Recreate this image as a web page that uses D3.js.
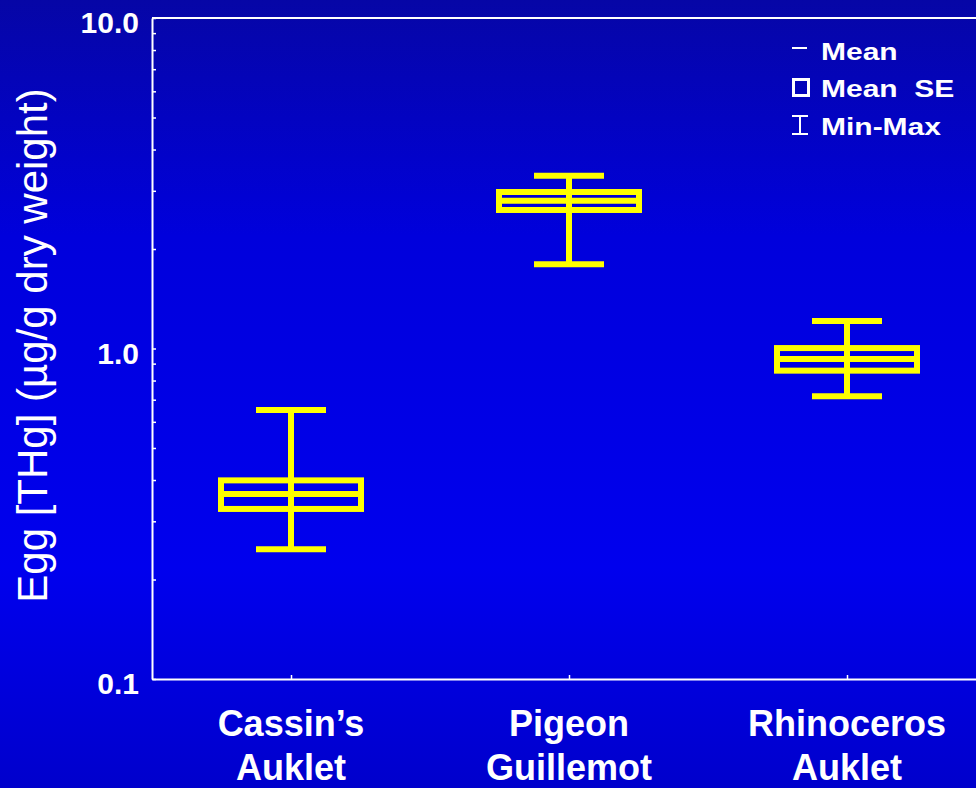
<!DOCTYPE html>
<html>
<head>
<meta charset="utf-8">
<script src="https://cdn.jsdelivr.net/npm/d3@7"></script>
<style>
  html, body { margin: 0; padding: 0; background: #0000d8; overflow: hidden; }
  svg { display: block; }
  text { font-family: "Liberation Sans", Arial, Helvetica, sans-serif; fill: #ffffff; }
</style>
</head>
<body>
<svg id="chart" width="976" height="788"></svg>
<script>
// Egg total mercury by species: mean, standard error and range (log scale)
const species = ["Cassin’s Auklet", "Pigeon Guillemot", "Rhinoceros Auklet"];
const speciesLines = [["Cassin’s", "Auklet"], ["Pigeon", "Guillemot"], ["Rhinoceros", "Auklet"]];
const means = [0.363, 2.80, 0.930];
const stdErrs = [0.036, 0.175, 0.073];
const mins = [0.247, 1.80, 0.717];
const maxs = [0.651, 3.33, 1.211];
const majorTicks = [0.1, 1, 10];
const legendLabels = ["Mean", "Mean  SE", "Min-Max"];

const W = 976, H = 788;
const plot = { left: 152, right: 986, top: 18, bottom: 679 };
const yellow = "#ffff00";

const svg = d3.select("#chart");

// background gradient
const defs = svg.append("defs");
const grad = defs.append("linearGradient")
  .attr("id", "bg").attr("x1", 0).attr("y1", 0).attr("x2", 0).attr("y2", 1);
[[0, "#0606a6"], [0.3, "#0000dc"], [0.72, "#0000ee"], [1, "#0000cc"]]
  .forEach(([o, c]) => grad.append("stop").attr("offset", o).attr("stop-color", c));
svg.append("rect").attr("width", W).attr("height", H).attr("fill", "url(#bg)");

const x = d3.scalePoint().domain(species).range([plot.left, plot.right]).padding(0.5);
const y = d3.scaleLog().domain([0.1, 10]).range([plot.bottom, plot.top]);

// all ticks (major + minor) on the log axis
const allTicks = y.ticks();
const isMajor = v => majorTicks.some(m => Math.abs(m - v) < 1e-9);

// left axis with inward ticks
const yAxis = d3.axisLeft(y)
  .tickValues(allTicks)
  .tickSizeInner(-4)
  .tickSizeOuter(0)
  .tickPadding(13)
  .tickFormat(v => isMajor(v) ? d3.format(".1f")(v) : "");
const gy = svg.append("g").attr("transform", `translate(${plot.left},0)`).call(yAxis);
gy.select(".domain").attr("stroke", "#fff").attr("stroke-width", 2);
gy.selectAll(".tick line").attr("stroke", "#fff").attr("stroke-width", 1.5);
gy.selectAll(".tick text")
  .attr("dy", "0.49em")
  .style("font-size", "30px").style("font-weight", "bold")
  .attr("fill", "#fff");

// bottom axis with inward ticks
const xAxis = d3.axisBottom(x).tickSizeInner(-4).tickSizeOuter(0).tickFormat("");
const gx = svg.append("g").attr("transform", `translate(0,${plot.bottom})`).call(xAxis);
gx.select(".domain").attr("stroke", "#fff").attr("stroke-width", 2);
gx.selectAll(".tick line").attr("stroke", "#fff").attr("stroke-width", 1.5);

// top frame line
svg.append("line")
  .attr("x1", plot.left).attr("x2", plot.right)
  .attr("y1", y(10)).attr("y2", y(10))
  .attr("stroke", "#fff").attr("stroke-width", 2);

// category labels (two lines each)
const labels = svg.append("g").selectAll("text")
  .data(species)
  .join("text")
  .attr("text-anchor", "middle")
  .style("font-size", "36px").style("font-weight", "bold");
labels.each(function (d, i) {
  const t = d3.select(this);
  speciesLines[i].forEach((line, j) => {
    t.append("tspan").attr("x", x(d)).attr("y", 736 + j * 44).text(line);
  });
});

// y axis title
svg.append("text")
  .attr("transform", `translate(47,${(603 + 88) / 2}) rotate(-90)`)
  .attr("text-anchor", "middle")
  .style("font-size", "42px")
  .text("Egg [THg] (µg/g dry weight)");

// boxes: mean line, mean ± SE box, min–max whiskers
const boxHalf = 70, capHalf = 35, sw = 6;
const rows = species.map((s, i) => ({
  s, mean: means[i], lo: means[i] - stdErrs[i], hi: means[i] + stdErrs[i], min: mins[i], max: maxs[i]
}));
const g = svg.append("g").selectAll("g").data(rows).join("g")
  .attr("stroke", yellow).attr("stroke-width", sw).attr("fill", "none");

g.append("line") // whisker
  .attr("x1", d => x(d.s)).attr("x2", d => x(d.s))
  .attr("y1", d => y(d.max)).attr("y2", d => y(d.min));
g.append("line") // max cap
  .attr("x1", d => x(d.s) - capHalf).attr("x2", d => x(d.s) + capHalf)
  .attr("y1", d => y(d.max)).attr("y2", d => y(d.max));
g.append("line") // min cap
  .attr("x1", d => x(d.s) - capHalf).attr("x2", d => x(d.s) + capHalf)
  .attr("y1", d => y(d.min)).attr("y2", d => y(d.min));
g.append("rect") // SE box
  .attr("x", d => x(d.s) - boxHalf).attr("width", boxHalf * 2)
  .attr("y", d => y(d.hi)).attr("height", d => y(d.lo) - y(d.hi));
g.append("line") // mean
  .attr("x1", d => x(d.s) - boxHalf).attr("x2", d => x(d.s) + boxHalf)
  .attr("y1", d => y(d.mean)).attr("y2", d => y(d.mean));

// legend
const lg = svg.append("g").attr("stroke", "#fff").attr("fill", "none");
lg.append("line").attr("x1", 792).attr("x2", 807).attr("y1", 48).attr("y2", 48).attr("stroke-width", 2);
lg.append("rect").attr("x", 793.5).attr("y", 79.5).attr("width", 15).attr("height", 16).attr("stroke-width", 3);
lg.append("line").attr("x1", 792).attr("x2", 808).attr("y1", 116).attr("y2", 116).attr("stroke-width", 2);
lg.append("line").attr("x1", 792).attr("x2", 808).attr("y1", 134).attr("y2", 134).attr("stroke-width", 2);
lg.append("line").attr("x1", 800).attr("x2", 800).attr("y1", 116).attr("y2", 134).attr("stroke-width", 2);

svg.append("g").selectAll("text")
  .data(legendLabels)
  .join("text")
  .attr("transform", (d, i) => `translate(821,${[60, 97, 135][i]}) scale(1.25,1)`)
  .style("font-size", "24px").style("font-weight", "bold")
  .style("white-space", "pre")
  .text(d => d);
</script>
</body>
</html>
